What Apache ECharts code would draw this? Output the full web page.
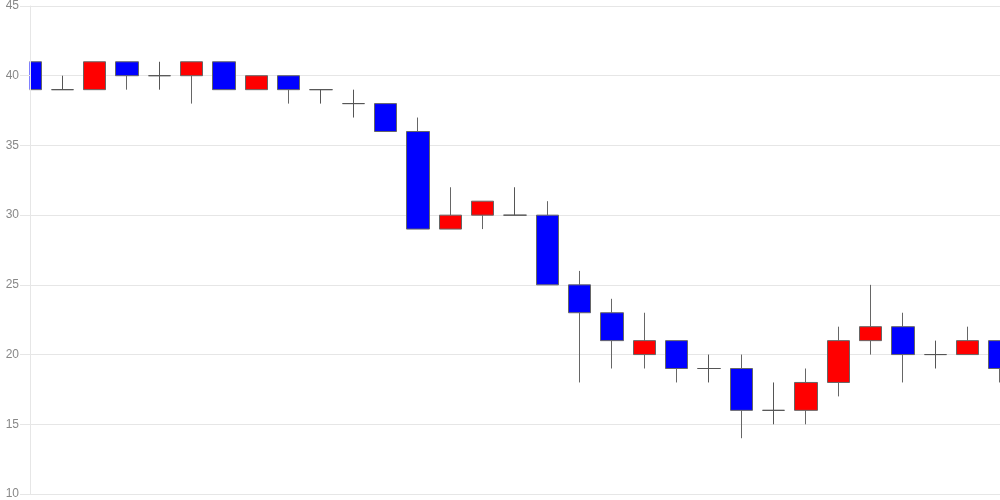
<!DOCTYPE html>
<html>
<head>
<meta charset="utf-8">
<script src="https://cdn.jsdelivr.net/npm/echarts@6/dist/echarts.min.js"></script>
<style>html,body{margin:0;padding:0;background:#fff}#c{width:1000px;height:500px}</style>
</head>
<body>
<div id="c"></div>
<script>
var categories = ['1','2','3','4','5','6','7','8','9','10','11','12','13','14','15','16','17','18','19','20','21','22','23','24','25','26','27','28','29','30','31'];
var openValues  = [41,39,39,41,40,40,41,39,40,39,38,38,36,29,30,30,30,25,23,20,21,19,19,16,16,18,21,22,20,20,21];
var closeValues = [39,39,41,40,40,41,39,40,39,39,38,36,29,30,31,30,25,23,21,21,19,19,16,16,18,21,22,20,20,21,19];
var lowValues   = [39,39,39,39,39,38,39,39,38,38,37,36,29,29,29,30,25,18,19,19,18,18,14,15,15,17,20,18,19,20,18];
var highValues  = [41,40,41,41,41,41,41,40,40,39,39,38,37,32,31,32,31,26,24,23,21,20,20,18,19,22,25,23,21,22,21];
var yTicks = [10,45,5];

var data = categories.map(function(c,i){return [openValues[i],closeValues[i],lowValues[i],highValues[i]];});
var chart = echarts.init(document.getElementById('c'));
chart.setOption({
  animation:false,
  grid:{left:30,right:0,top:6,bottom:6},
  // white mask left of the plot area so edge candles look clipped at the axis
  graphic:[{type:'rect',z:3,silent:true,shape:{x:0,y:0,width:29.5,height:500},style:{fill:'#fff'}}],
  xAxis:{type:'category',data:categories,boundaryGap:false,
    axisLine:{show:true,lineStyle:{color:'#e6e6e6'}},axisTick:{show:false},axisLabel:{show:false},splitLine:{show:false}},
  yAxis:[
    {type:'value',position:'left',min:yTicks[0],max:yTicks[1],interval:yTicks[2],
      axisLine:{show:false},axisTick:{show:false},axisLabel:{show:false},
      splitLine:{show:true,lineStyle:{color:'#e6e6e6'}}},
    {type:'value',position:'left',offset:0,min:yTicks[0],max:yTicks[1],interval:yTicks[2],z:4,
      axisLine:{show:true,lineStyle:{color:'#e6e6e6'}},
      axisTick:{show:true,length:10,lineStyle:{color:'#e6e6e6'}},
      axisLabel:{color:'#888',fontSize:12,margin:11,fontFamily:'Arial, Liberation Sans, sans-serif'},
      splitLine:{show:false}}
  ],
  series:[{type:'candlestick',yAxisIndex:0,data:data,barWidth:23,clip:true,
    itemStyle:{color:'#ff0000',color0:'#0000ff',borderColor:'#666',borderColor0:'#666',borderColorDoji:'#555',borderWidth:1}}]
});
</script>
</body>
</html>
